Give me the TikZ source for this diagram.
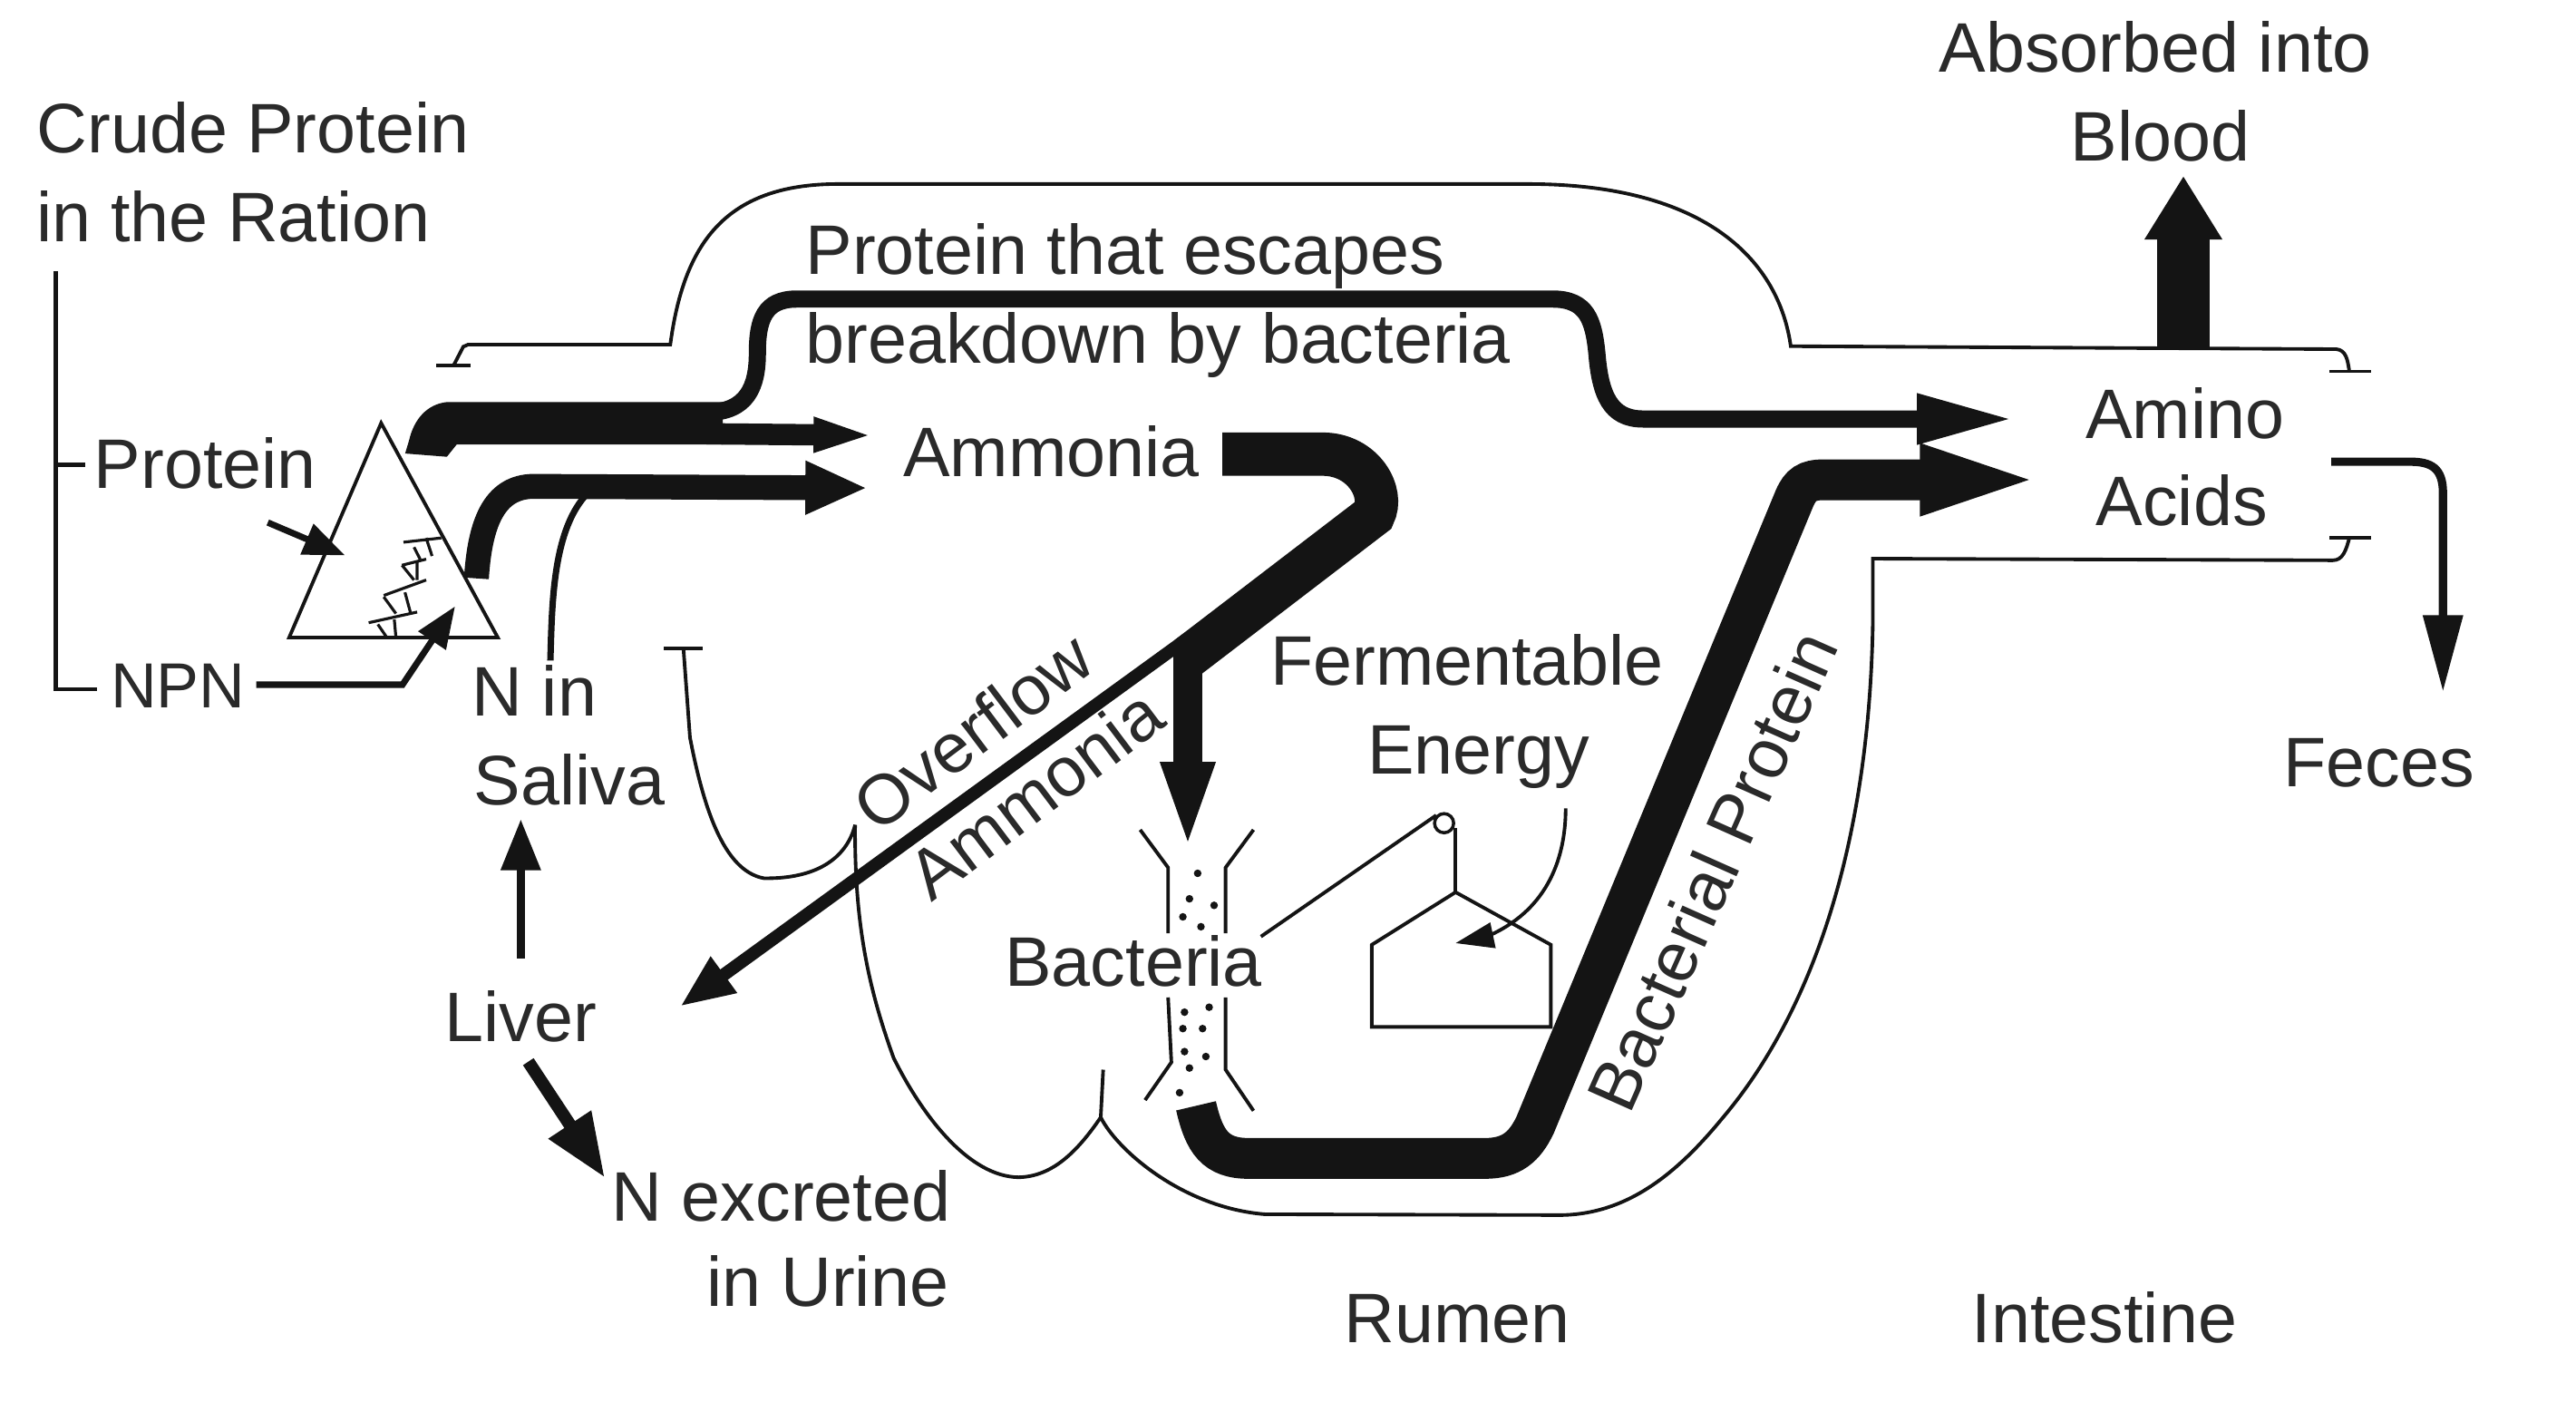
\documentclass[tikz,border=0pt]{standalone}
\usepackage{xcolor}
\usepackage{fontspec}
\setmainfont{Liberation Sans}
\usetikzlibrary{arrows.meta}
\definecolor{inkblack}{HTML}{141414}
\definecolor{inkgrey}{HTML}{2A2A2A}
\tikzset{
  label/.style={inner sep=0pt, text=inkgrey},
  thinwall/.style={line width=1.1pt, inkblack},
  bigflow/.style={line width=12.8pt, inkblack},
  midflow/.style={line width=5.4pt, inkblack},
  smallflow/.style={line width=2.6pt, inkblack},
}
\begin{document}
\begin{tikzpicture}[x=0.01812cm, y=-0.01812cm, font=\fontsize{22}{27}\selectfont]
  \useasboundingbox (0,0) rectangle (1568,859);
  % labels
  \node[label, anchor=base] (absorbed) at (1312,44) {Absorbed into};
  \node[label, anchor=base] (blood) at (1315,98) {Blood};
  \node[label, anchor=base west] (crude) at (22,93) {Crude Protein};
  \node[label, anchor=base west] (ration) at (22,147) {in the Ration};
  \node[label, anchor=base west] (escapes) at (490,167) {Protein that escapes};
  \node[label, anchor=base west] (breakdown) at (490,221) {breakdown by bacteria};
  \node[label, anchor=base] (ammonia) at (640,290) {Ammonia};
  \node[label, anchor=base west] (protein) at (57,297) {Protein};
  \node[label, anchor=base west, font=\fontsize{20}{27}\selectfont] (npn) at (67,431) {NPN};
  \node[label, anchor=base west] (nin) at (287,436) {N in};
  \node[label, anchor=base west] (saliva) at (288,490) {Saliva};
  \node[label, rotate=37] (overflow) at (592,445) {Overflow};
  \node[label, rotate=37] (overammonia) at (630,483) {Ammonia};
  \node[label, anchor=base] (fermentable) at (893,417) {Fermentable};
  \node[label, anchor=base] (energy) at (900,471) {Energy};
  \node[label, anchor=base] (bacteria) at (690,600) {Bacteria};
  \node[label, anchor=base] (liver) at (317,634) {Liver};
  \node[label, anchor=base west] (excreted) at (372,743) {N excreted};
  \node[label, anchor=base west] (urine) at (430,795) {in Urine};
  \node[label, anchor=base] (rumen) at (887,817) {Rumen};
  \node[label, anchor=base] (intestine) at (1281,817) {Intestine};
  \node[label, rotate=66] (bactprotein) at (1042,530) {Bacterial Protein};
  \node[label, anchor=base] (amino) at (1330,267) {Amino};
  \node[label, anchor=base] (acids) at (1328,320) {Acids};
  \node[label, anchor=base] (feces) at (1448,479) {Feces};
  % free ends of the flows
  \coordinate (splitA) at (430,251);
  \coordinate (splitB) at (430,264);
  \coordinate (aminoA) at (1226,255);
  \coordinate (aminoB) at (1252,292);
  \coordinate (ammoniaA) at (534,265);
  \coordinate (ammoniaB) at (528,297);
  \coordinate (ammoniaout) at (744,276.4);
  \coordinate (ammoniasplit) at (723,400);
  \coordinate (overflowout) at (725,387);
  \coordinate (downout) at (723,392);
  \coordinate (liverin) at (414,612.5);
  \coordinate (bacteriain) at (723,518);
  \coordinate (bacteriaout) at (728,673);
  \coordinate (npnout) at (290,352);
  \coordinate (salivaup) at (335,402);
  \coordinate (salivajoin) at (356,302);
  \coordinate (aminoout) at (1419,281);
  \coordinate (fecesin) at (1487,421);
  \coordinate (bloodbase) at (1329,212);
  \coordinate (bloodtip) at (1329,107);
  % rumen and intestine wall
  \coordinate (wallA) at (276,222.6);
  \coordinate (wallB) at (1430,226);
  \coordinate (wallC) at (1430,327.5);
  \coordinate (wallD) at (416,394.6);
  \draw[thinwall] (265.6,222.6) -- (286.7,222.6);
  \draw[thinwall] (1418,226) -- (1443,226);
  \draw[thinwall] (1418,327.5) -- (1443,327.5);
  \draw[thinwall] (404,394.6) -- (428,394.6);
  \draw[thinwall] (wallA) -- (282,211) -- (285,209.7) -- (408,209.7)
    .. controls (416,150) and (440,112) .. (510,112) -- (930,112)
    .. controls (1040,112) and (1083,160) .. (1090,210.7) -- (1422,212.5)
    .. controls (1428,213) and (1429,219) .. (wallB);
  \draw[thinwall] (wallC) .. controls (1428,335) and (1426,341) .. (1420,341)
    -- (1140,340) -- (1140,377)
    .. controls (1138,520) and (1100,620) .. (1048,681)
    .. controls (1020,715) and (990,739) .. (950,739.5) -- (770,739)
    .. controls (720,735) and (680,700) .. (670,680) -- (671.5,651);
  \draw[thinwall] (670,680) .. controls (655,702) and (640,716) .. (620,716.5)
    .. controls (590,716) and (562,680) .. (544,644)
    .. controls (528,600) and (520,560) .. (520.5,502);
  \draw[thinwall] (520.5,502) .. controls (516,520) and (500,535) .. (465,534.5)
    .. controls (440,530) and (428,490) .. (420,449) -- (wallD);
  % crude protein bracket
  \draw[line width=1.3pt, inkblack] (34,165) -- (34,419.4) -- (59,419.4);
  \draw[line width=1.3pt, inkblack] (34,283) -- (52,283);
  % ration triangle
  \coordinate (triA) at (232,257.5);
  \coordinate (triB) at (176,388);
  \coordinate (triC) at (303,388);
  \draw[thinwall] (triA) -- (triB) -- (triC) -- cycle;
  \draw[line width=0.9pt, inkblack]
    (245.6,330) -- (268.6,327.4) (252,333) -- (255.7,340.3) (259.4,327.4) -- (263,338.4)
    (244.7,344) -- (259.4,340.3) (244.7,344) -- (252,353) (253.9,342) -- (253.9,353)
    (259.4,353) -- (233.6,362.4) (233.6,363.3) -- (241,373.4) (246.5,360.5) -- (250,373.4)
    (253.9,372.5) -- (224.4,379) (230,380) -- (235.5,388) (240,377) -- (241,388);
  \coordinate (proteinstart) at (163,318);
  \coordinate (proteintip) at (210,338);
  \draw[line width=2pt, inkblack, -{Triangle[length=13pt, width=10pt]}] (proteinstart) -- (proteintip);
  \coordinate (npnknee) at (245,416.7);
  \coordinate (npntip) at (277,369);
  \draw[line width=2pt, inkblack, -{Triangle[length=13pt, width=10pt]}] (156,416.7) -- (npnknee) -- (npntip);
  % thick flows
  \fill[inkblack] (272,244.7) -- (440,244.7) -- (440,270.5) -- (278,270.5) -- (272,278)
    -- (246.6,276) -- (249,268) .. controls (252,255) and (260,246) .. (272,244.7) -- cycle;
  \draw[midflow, -{Triangle[length=30.5pt, width=14.5pt]}] (splitA)
    .. controls (455,251) and (461,235) .. (461,215)
    .. controls (461,195) and (465,182) .. (485,182) -- (945,182)
    .. controls (966,182) and (970,195) .. (972,215)
    .. controls (974,240) and (980,255) .. (1000,255) -- (aminoA);
  \draw[line width=6.7pt, inkblack, -{Triangle[length=20pt, width=9.5pt]}] (splitB) -- (ammoniaA);
  \draw[line width=7.8pt, inkblack, -{Triangle[length=19.5pt, width=15.5pt]}] (npnout)
    .. controls (292,320) and (300,296) .. (325,296) -- (ammoniaB);
  \draw[line width=2pt, inkblack] (salivaup) .. controls (336,370) and (336,325) .. (salivajoin);
  \draw[line width=13.6pt, inkblack] (ammoniaout) -- (805,276.4)
    .. controls (830,276.4) and (843,300) .. (836,313.5) -- (ammoniasplit);
  \draw[line width=4pt, inkblack, -{Triangle[length=17pt, width=13pt]}] (overflowout) -- (liverin);
  \draw[line width=9pt, inkblack, -{Triangle[length=28pt, width=15pt]}] (downout) -- (bacteriain);
  \draw[bigflow, -{Triangle[length=43pt, width=18.5pt]}] (bacteriaout)
    .. controls (733,695) and (740,705) .. (760,705) -- (904,705)
    .. controls (920,705) and (928,698) .. (934.4,684.7) -- (1092.4,303)
    .. controls (1096,295) and (1100,292) .. (1110,292) -- (aminoB);
  \draw[smallflow, -{Triangle[length=24pt, width=12pt]}] (aminoout) -- (1467,281)
    .. controls (1480,281) and (1487,285) .. (1487,300) -- (fecesin);
  \draw[line width=16.5pt, inkblack, -{Triangle[length=20pt, width=23pt]}] (bloodbase) -- (bloodtip);
  % liver flows
  \draw[smallflow, shorten <=10pt, shorten >=4pt, -{Triangle[length=16pt, width=12pt]}]
    (liver.north) -- (liver.north |- saliva.south);
  \draw[line width=4pt, inkblack, shorten <=7pt, -{Triangle[length=20pt, width=15pt]}]
    ([xshift=-1.5pt]liver.south) -- ([xshift=-2pt, yshift=-2.6pt]excreted.north west);
  % bacteria vessel
  \draw[thinwall] (694,505) -- (711,528) -- (711,568);
  \draw[thinwall] (763,505) -- (746,528) -- (746,568);
  \draw[thinwall] (711,607) -- (713,646.5) -- (697,669.5);
  \draw[thinwall] (746,607) -- (746,651) -- (763,676);
  \foreach \dotx/\doty in {729/531.5, 724/547, 739/551, 720/558, 731/564, 721/616, 736/613,
    720/626, 732/626, 721/640, 734/643, 724/650, 718/665}
    \fill[inkblack] (\dotx,\doty) circle (1.2pt);
  % fermentable energy pulley
  \node[draw=inkblack, line width=1pt, circle, minimum size=6pt, inner sep=0pt] (pulley) at (879,501) {};
  \coordinate (house) at (886,543);
  \draw[thinwall] (767.5,570) -- (pulley.north west);
  \draw[thinwall] (886,504) -- (house);
  \draw[thinwall] (house) -- (835,575) -- (835,625) -- (944,625) -- (944,575) -- cycle;
  \coordinate (energystart) at (953,492);
  \coordinate (energytip) at (886,574);
  \draw[thinwall, -{Triangle[length=12pt, width=8pt]}] (energystart)
    .. controls (953,525) and (940,555) .. (905,570) -- (energytip);
\end{tikzpicture}
\end{document}
